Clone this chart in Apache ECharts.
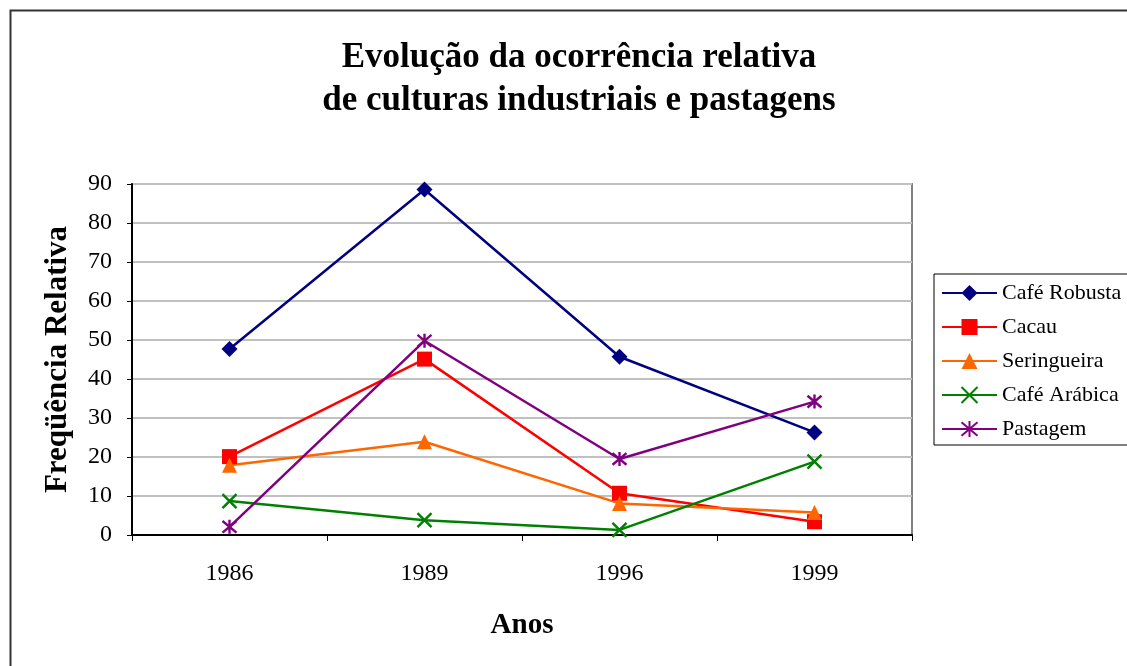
<!DOCTYPE html>
<html>
<head>
<meta charset="utf-8">
<script src="https://cdn.jsdelivr.net/npm/echarts@6/dist/echarts.min.js"></script>
<style>
  html, body { margin: 0; padding: 0; background: #fff; }
  #chart { width: 1127px; height: 666px; }
</style>
</head>
<body>
<div id="chart"></div>
<script>
// Years on the horizontal axis
const anos = ['1986', '1989', '1996', '1999'];

// Relative frequency (%) by crop / land use
const cafeRobusta = [47.7, 88.6, 45.7, 26.3];
const cacau       = [20.1, 45.1, 10.7, 3.4];
const seringueira = [17.9, 23.9, 8.1, 5.8];
const cafeArabica = [8.7, 3.8, 1.3, 18.8];
const pastagem    = [2.1, 49.8, 19.5, 34.2];

const serif = '"Liberation Serif", "Times New Roman", serif';

// Open-stroke marker shapes
const xMark = 'path://M0,0L10,10M10,0L0,10';
const starMark = 'path://M0,0L10,10M10,0L0,10M5,-1L5,11';

function lineSeries(name, data, color, symbol, size, stroked) {
  return {
    name, type: 'line', data,
    symbol, symbolSize: size,
    lineStyle: { color, width: 2.5 },
    itemStyle: stroked
      ? { color: 'rgba(0,0,0,0)', borderColor: color, borderWidth: 2.4 }
      : { color, borderWidth: 0 },
    emphasis: { disabled: true },
    animation: false
  };
}

const chart = echarts.init(document.getElementById('chart'), null, { renderer: 'canvas' });
chart.setOption({
  backgroundColor: '#fff',
  animation: false,
  graphic: [{
    type: 'rect',
    shape: { x: 10.5, y: 10.5, width: 1200, height: 700 },
    style: { fill: 'none', stroke: '#333', lineWidth: 2 },
    silent: true, z: -10
  }],
  title: {
    text: 'Evolução da ocorrência relativa\nde culturas industriais e pastagens',
    left: 574, top: 31, textAlign: 'center',
    textStyle: { fontFamily: serif, fontWeight: 'bold', fontSize: 35, lineHeight: 43, color: '#000' }
  },
  legend: {
    orient: 'vertical',
    left: 934, top: 274,
    padding: [8, 10, 5, 7],
    itemGap: 12,
    itemWidth: 55, itemHeight: 20,
    backgroundColor: '#fff',
    borderColor: '#000', borderWidth: 1,
    textStyle: { fontFamily: serif, fontSize: 22, lineHeight: 22, color: '#000' },
    data: ['Café Robusta', 'Cacau', 'Seringueira', 'Café Arábica', 'Pastagem']
  },
  grid: { left: 132, right: 215, top: 184, bottom: 131, show: true, borderColor: '#808080', borderWidth: 2 },
  xAxis: {
    type: 'category', data: anos, boundaryGap: true,
    name: 'Anos', nameLocation: 'middle', nameGap: 76,
    nameTextStyle: { fontFamily: serif, fontWeight: 'bold', fontSize: 29, color: '#000' },
    axisLine: { lineStyle: { color: '#000', width: 2 } },
    axisTick: { show: true, alignWithLabel: false, length: 6, lineStyle: { color: '#000', width: 1 } },
    axisLabel: { fontFamily: serif, fontSize: 24, color: '#000', margin: 27 },
    splitLine: { show: false }
  },
  yAxis: {
    type: 'value', min: 0, max: 90, interval: 10,
    name: 'Freqüência Relativa', nameLocation: 'middle', nameGap: 59,
    nameTextStyle: { fontFamily: serif, fontWeight: 'bold', fontSize: 31, color: '#000' },
    axisLine: { show: true, lineStyle: { color: '#000', width: 2 } },
    axisTick: { show: true, length: 5, lineStyle: { color: '#000', width: 1 } },
    axisLabel: { fontFamily: serif, fontSize: 24, color: '#000', margin: 20 },
    splitLine: { show: true, lineStyle: { color: '#c0c0c0', width: 2 } }
  },
  series: [
    lineSeries('Café Robusta', cafeRobusta, '#000080', 'diamond', 16, false),
    lineSeries('Cacau', cacau, '#ff0000', 'rect', 15, false),
    lineSeries('Seringueira', seringueira, '#ff6600', 'triangle', 15, false),
    lineSeries('Café Arábica', cafeArabica, '#008000', xMark, 14, true),
    lineSeries('Pastagem', pastagem, '#800080', starMark, 14, true)
  ]
});
</script>
</body>
</html>
